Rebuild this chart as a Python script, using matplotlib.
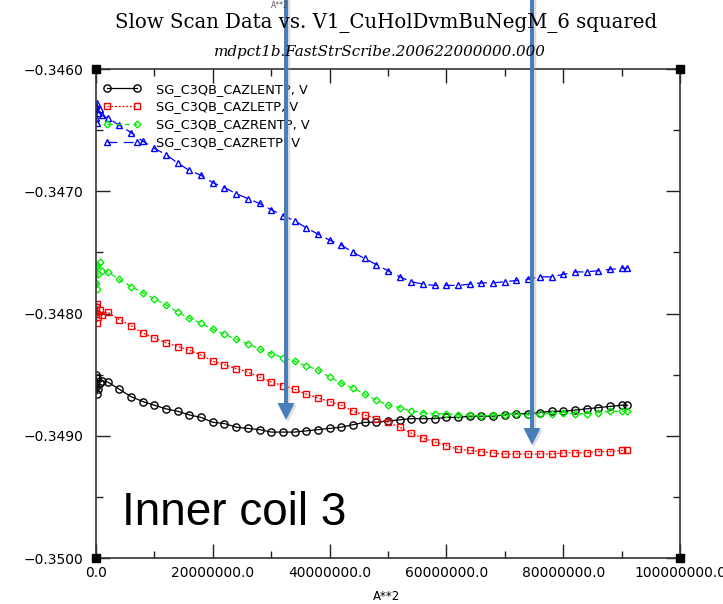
import numpy as np
import matplotlib
matplotlib.use("Agg")
import matplotlib.pyplot as plt
from matplotlib.ticker import MultipleLocator, FuncFormatter
from matplotlib.patches import FancyArrow

# ---------------- data ----------------
# A**2 sample positions, in millions
x_millions = [0.0, 0.05, 0.1, 0.2, 0.35, 0.6, 1.0,
              2, 4, 6, 8, 10, 12, 14, 16, 18, 20, 22, 24, 26, 28, 30, 32, 34, 36, 38,
              40, 42, 44, 46, 48, 50, 52, 54, 56, 58, 60, 62, 64, 66, 68, 70, 72, 74,
              76, 78, 80, 82, 84, 86, 88, 90, 91]

cazlentp = [-0.34860, -0.34850, -0.34866, -0.34853, -0.34862, -0.34857, -0.34855,
            -0.34856, -0.34862, -0.34868, -0.34872, -0.34875, -0.34878, -0.34880, -0.34883,
            -0.34885, -0.34889, -0.34890, -0.34893, -0.34894, -0.34895, -0.34897, -0.34897,
            -0.34897, -0.34896, -0.34895, -0.34894, -0.34893, -0.34891, -0.34889, -0.34889,
            -0.34888, -0.34887, -0.34886, -0.34886, -0.34886, -0.34885, -0.34885, -0.34884,
            -0.34884, -0.34884, -0.34883, -0.34882, -0.34882, -0.34881, -0.34880, -0.34880,
            -0.34879, -0.34878, -0.34877, -0.34876, -0.34875, -0.34875]

cazletp = [-0.34800, -0.34795, -0.34808, -0.34792, -0.34803, -0.34797, -0.34801,
           -0.34799, -0.34805, -0.34810, -0.34816, -0.34820, -0.34824, -0.34827, -0.34830,
           -0.34834, -0.34839, -0.34842, -0.34845, -0.34848, -0.34852, -0.34856, -0.34859,
           -0.34862, -0.34866, -0.34869, -0.34872, -0.34875, -0.34880, -0.34883, -0.34886,
           -0.34889, -0.34893, -0.34898, -0.34902, -0.34905, -0.34908, -0.34911, -0.34912,
           -0.34913, -0.34914, -0.34915, -0.34915, -0.34915, -0.34915, -0.34915, -0.34914,
           -0.34914, -0.34914, -0.34913, -0.34913, -0.34912, -0.34912]

cazrentp = [-0.34762, -0.34775, -0.34760, -0.34780, -0.34768, -0.34758, -0.34765,
            -0.34766, -0.34772, -0.34778, -0.34783, -0.34788, -0.34793, -0.34799, -0.34804,
            -0.34808, -0.34813, -0.34817, -0.34821, -0.34825, -0.34829, -0.34833, -0.34836,
            -0.34839, -0.34843, -0.34846, -0.34852, -0.34857, -0.34861, -0.34866, -0.34871,
            -0.34875, -0.34877, -0.34880, -0.34881, -0.34882, -0.34882, -0.34883, -0.34883,
            -0.34884, -0.34883, -0.34883, -0.34882, -0.34883, -0.34882, -0.34882, -0.34881,
            -0.34882, -0.34882, -0.34881, -0.34880, -0.34880, -0.34880]

cazretp = [-0.34640, -0.34630, -0.34644, -0.34628, -0.34636, -0.34633, -0.34638,
           -0.34640, -0.34646, -0.34652, -0.34659, -0.34665, -0.34670, -0.34677, -0.34683,
           -0.34687, -0.34693, -0.34697, -0.34702, -0.34706, -0.34710, -0.34715, -0.34720,
           -0.34724, -0.34730, -0.34735, -0.34740, -0.34744, -0.34750, -0.34755, -0.34760,
           -0.34765, -0.34770, -0.34774, -0.34776, -0.34777, -0.34777, -0.34777, -0.34776,
           -0.34775, -0.34775, -0.34774, -0.34773, -0.34772, -0.34770, -0.34770, -0.34768,
           -0.34766, -0.34766, -0.34765, -0.34764, -0.34763, -0.34763]

series_labels = ["SG_C3QB_CAZLENTP, V", "SG_C3QB_CAZLETP, V",
                 "SG_C3QB_CAZRENTP, V", "SG_C3QB_CAZRETP, V"]

title = "Slow Scan Data vs. V1_CuHolDvmBuNegM_6 squared"
subtitle = "mdpct1b.FastStrScribe.200622000000.000"
xlabel = "A**2"
note = "Inner coil 3"

# ---------------- figure ----------------
W, H = 723, 604
fig = plt.figure(figsize=(W / 100, H / 100), dpi=100)
L, R, T, B = 96, 680, 69, 558
ax = fig.add_axes([L / W, 1 - B / H, (R - L) / W, (B - T) / H])

x = np.array(x_millions) * 1e6

styles = [
    dict(color="black", ls="-", marker="o", ms=5.2),
    dict(color="#ff0000", ls=(0, (1.5, 1.5)), marker="s", ms=4.5),
    dict(color="#00ee00", ls=(0, (4, 3)), marker="D", ms=3.5),
    dict(color="#0000ff", ls=(0, (8, 5)), marker="^", ms=4.8),
]
for yv, lab, st in zip([cazlentp, cazletp, cazrentp, cazretp], series_labels, styles):
    ax.plot(x, yv, color=st["color"], ls=st["ls"], lw=0.9, marker=st["marker"],
            ms=st["ms"], mfc="none", mec=st["color"], mew=1.0, label=lab)

ax.set_xlim(0, 1e8)
ax.set_ylim(-0.350, -0.346)
ax.xaxis.set_major_locator(MultipleLocator(2e7))
ax.xaxis.set_minor_locator(MultipleLocator(1e7))
ax.yaxis.set_major_locator(MultipleLocator(0.001))
ax.yaxis.set_minor_locator(MultipleLocator(0.0005))
ax.xaxis.set_major_formatter(FuncFormatter(lambda v, p: "%.1f" % v))
ax.yaxis.set_major_formatter(FuncFormatter(lambda v, p: ("%.4f" % v).replace("-", "\u2212")))
ax.tick_params(which="both", direction="in", top=True, right=True, width=1.0,
               labelsize=10, colors="#222222")
ax.tick_params(which="major", length=10)
ax.tick_params(which="minor", length=5)
ax.tick_params(axis="x", which="major", pad=6)
ax.tick_params(axis="y", which="major", pad=9)
for lbl in ax.get_xticklabels() + ax.get_yticklabels():
    lbl.set_color("black")
for sp in ax.spines.values():
    sp.set_color("#333333")
    sp.set_linewidth(1.2)

# corner markers
ax.plot([0, 1, 0, 1], [0, 0, 1, 1], ls="none", marker="s", ms=6, color="black",
        transform=ax.transAxes, clip_on=False, zorder=5)

leg = ax.legend(loc="upper left", bbox_to_anchor=(0.012, 0.972), frameon=False,
                numpoints=2, handlelength=2.9, handletextpad=1.2, labelspacing=0.37,
                borderaxespad=0, borderpad=0, prop={"family": "DejaVu Sans", "size": 9.3})

fig.text(386 / W, 1 - 23 / H, title, ha="center", va="center",
         family="DejaVu Serif", fontsize=14.2)
fig.text(380 / W, 1 - 52 / H, subtitle, ha="center", va="center",
         family="DejaVu Serif", style="italic", fontsize=10.9)
fig.text(387 / W, 1 - 597 / H, xlabel, ha="center", va="center",
         family="DejaVu Sans", fontsize=8.5)
fig.text(280 / W, 1 - 5 / H, "A**2", ha="center", va="center",
         family="DejaVu Sans", fontsize=5.5, color="#555555")
fig.text(122 / W, 1 - 525 / H, note, ha="left", va="baseline",
         family="Liberation Sans", fontsize=33)

# overlay arrows (inches)
arrow_color = "#4a7ebb"
for ax_px, tip_px in [(286, 420), (532, 445)]:
    xs = ax_px / 100
    y0 = H / 100 + 0.05
    tip = (H - tip_px) / 100
    shadow = FancyArrow(xs + 0.02, y0 - 0.02, 0, tip - y0, width=0.045, head_width=0.17,
                        head_length=0.17, length_includes_head=True, color="#999999",
                        alpha=0.35, transform=fig.dpi_scale_trans, lw=0)
    fig.add_artist(shadow)
    arr = FancyArrow(xs, y0, 0, tip - y0, width=0.04, head_width=0.17, head_length=0.17,
                     length_includes_head=True, color=arrow_color,
                     transform=fig.dpi_scale_trans, lw=0)
    fig.add_artist(arr)

fig.savefig("out.png", dpi=100)
